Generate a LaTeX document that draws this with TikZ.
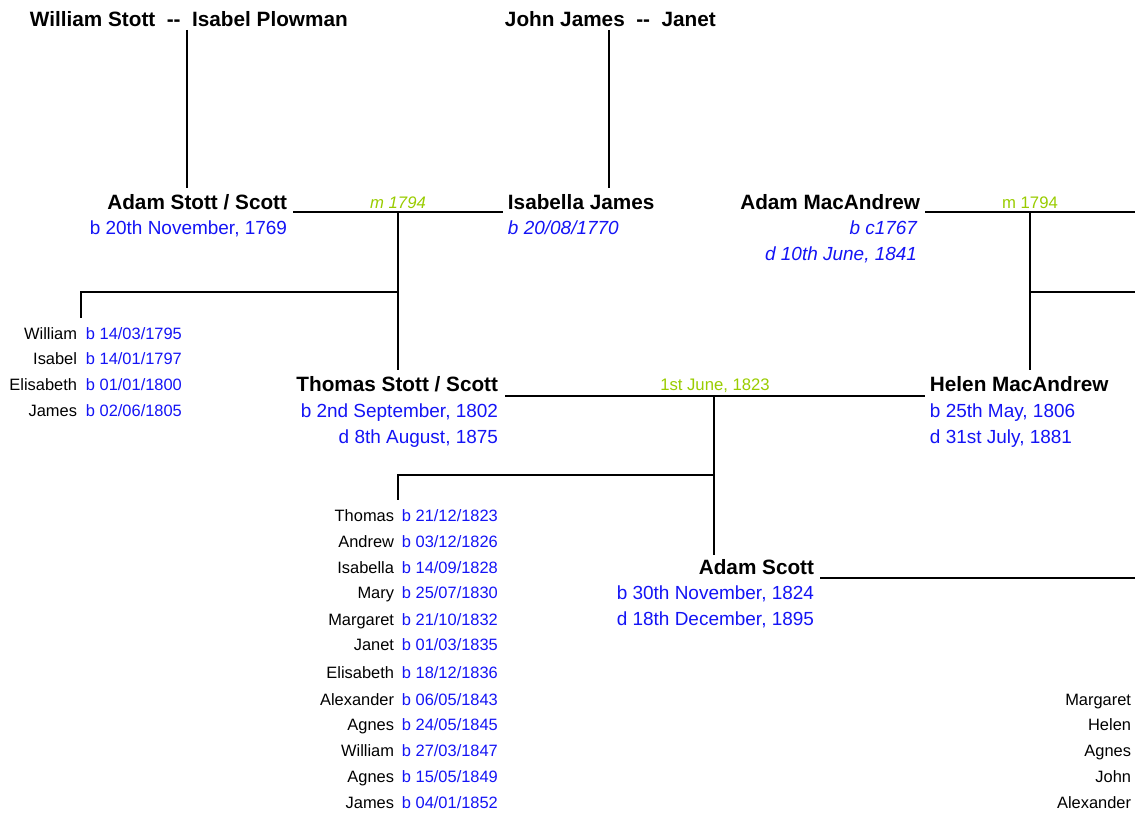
\documentclass[tikz,border=0pt]{standalone}
\usepackage{fontspec}
\setmainfont{Liberation Sans}
\usepackage{tikz}

\definecolor{wedgreen}{RGB}{153,204,0}
\definecolor{dateblue}{RGB}{20,20,245}

\begin{document}
\begin{tikzpicture}[x=0.02cm, y=-0.02cm, line width=1.1pt,
  nm/.style={font=\bfseries\fontsize{11.8}{14}\selectfont, inner sep=0},
  dt/.style={text=dateblue, font=\fontsize{10.8}{13}\selectfont, inner sep=0},
  idt/.style={text=dateblue, font=\itshape\fontsize{10.8}{13}\selectfont, inner sep=0},
  kid/.style={font=\fontsize{9.35}{11}\selectfont, inner sep=0},
  kdt/.style={kid, text=dateblue},
  wed/.style={text=wedgreen, font=\fontsize{9.5}{11}\selectfont, inner sep=0}]

\useasboundingbox (0,0) rectangle (1146,813);

% grandparents
\node [nm, anchor=base west] (stotts) at (29,27) {William Stott\ \ -{}-\ \ Isabel Plowman};
\node [nm, anchor=base west] (jameses) at (504,27) {John James\ \ -{}-\ \ Janet};

% Adam Stott and Isabella James
\node [nm, anchor=base east] (adam) at (288,210) {Adam Stott / Scott};
\node [dt, anchor=base east] (adamb) at (288,235) {b 20th November, 1769};
\node [nm, anchor=base west] (isabella) at (507,210) {Isabella James};
\node [idt, anchor=base west] (isabellab) at (507,235) {b 20/08/1770};
\node [wed, font=\itshape\fontsize{9.5}{11}\selectfont, anchor=base] (wed1) at (398,209) {m 1794};

% Adam MacAndrew
\node [nm, anchor=base east] (macadam) at (921,210) {Adam MacAndrew};
\node [idt, anchor=base east] (macadamb) at (918,235) {b c1767};
\node [idt, anchor=base east] (macadamd) at (918,261) {d 10th June, 1841};
\node [wed, anchor=base] (wed2) at (1030,209) {m 1794};

% Thomas and Helen
\node [nm, anchor=base east] (thomas) at (499,392) {Thomas Stott / Scott};
\node [dt, anchor=base east] (thomasb) at (499,418) {b 2nd September, 1802};
\node [dt, anchor=base east] (thomasd) at (499,444) {d 8th August, 1875};
\node [nm, anchor=base west] (helen) at (929,392) {Helen MacAndrew};
\node [dt, anchor=base west] (helenb) at (929,418) {b 25th May, 1806};
\node [dt, anchor=base west] (helend) at (929,444) {d 31st July, 1881};
\node [wed, anchor=base] (wed3) at (715,391) {1st June, 1823};

% Adam Scott
\node [nm, anchor=base east] (scott) at (815,575) {Adam Scott};
\node [dt, anchor=base east] (scottb) at (815,600) {b 30th November, 1824};
\node [dt, anchor=base east] (scottd) at (815,626) {d 18th December, 1895};

% children of Adam and Isabella
\node [kid, anchor=base east] (a1) at (78,340) {William};   \node [kdt, anchor=base west] (a1b) at (85,340) {b 14/03/1795};
\node [kid, anchor=base east] (a2) at (78,365) {Isabel};    \node [kdt, anchor=base west] (a2b) at (85,365) {b 14/01/1797};
\node [kid, anchor=base east] (a3) at (78,391) {Elisabeth}; \node [kdt, anchor=base west] (a3b) at (85,391) {b 01/01/1800};
\node [kid, anchor=base east] (a4) at (78,417) {James};     \node [kdt, anchor=base west] (a4b) at (85,417) {b 02/06/1805};

% children of Thomas and Helen
\node [kid, anchor=base east] (t1) at (395,522) {Thomas};     \node [kdt, anchor=base west] (t1b) at (401,522) {b 21/12/1823};
\node [kid, anchor=base east] (t2) at (395,548) {Andrew};     \node [kdt, anchor=base west] (t2b) at (401,548) {b 03/12/1826};
\node [kid, anchor=base east] (t3) at (395,574) {Isabella};   \node [kdt, anchor=base west] (t3b) at (401,574) {b 14/09/1828};
\node [kid, anchor=base east] (t4) at (395,599) {Mary};       \node [kdt, anchor=base west] (t4b) at (401,599) {b 25/07/1830};
\node [kid, anchor=base east] (t5) at (395,626) {Margaret};   \node [kdt, anchor=base west] (t5b) at (401,626) {b 21/10/1832};
\node [kid, anchor=base east] (t6) at (395,651) {Janet};      \node [kdt, anchor=base west] (t6b) at (401,651) {b 01/03/1835};
\node [kid, anchor=base east] (t7) at (395,679) {Elisabeth};  \node [kdt, anchor=base west] (t7b) at (401,679) {b 18/12/1836};
\node [kid, anchor=base east] (t8) at (395,705) {Alexander};  \node [kdt, anchor=base west] (t8b) at (401,705) {b 06/05/1843};
\node [kid, anchor=base east] (t9) at (395,730) {Agnes};      \node [kdt, anchor=base west] (t9b) at (401,730) {b 24/05/1845};
\node [kid, anchor=base east] (t10) at (395,756) {William};   \node [kdt, anchor=base west] (t10b) at (401,756) {b 27/03/1847};
\node [kid, anchor=base east] (t11) at (395,782) {Agnes};     \node [kdt, anchor=base west] (t11b) at (401,782) {b 15/05/1849};
\node [kid, anchor=base east] (t12) at (395,808) {James};     \node [kdt, anchor=base west] (t12b) at (401,808) {b 04/01/1852};

% children of Adam Scott
\node [kid, anchor=base east] (s1) at (1132,705) {Margaret};
\node [kid, anchor=base east] (s2) at (1132,730) {Helen};
\node [kid, anchor=base east] (s3) at (1132,756) {Agnes};
\node [kid, anchor=base east] (s4) at (1132,782) {John};
\node [kid, anchor=base east] (s5) at (1132,808) {Alexander};

% joints
\coordinate (stottsdown) at (187,30);   \coordinate (adamup) at (187,188);
\coordinate (jamesdown) at (609,30);    \coordinate (isabellaup) at (609,188);
\coordinate (wed1l) at (293,212);       \coordinate (wed1r) at (503,212);
\coordinate (wed1m) at (398,212);       \coordinate (thomasup) at (398,370);
\coordinate (sibs1m) at (398,292);      \coordinate (sibs1l) at (81,292);
\coordinate (a1up) at (81,318);
\coordinate (wed2l) at (925,212);       \coordinate (wed2r) at (1135,212);
\coordinate (wed2m) at (1030,212);      \coordinate (helenup) at (1030,370);
\coordinate (sibs2m) at (1030,292);     \coordinate (sibs2r) at (1135,292);
\coordinate (wed3l) at (505,396);       \coordinate (wed3r) at (925,396);
\coordinate (wed3m) at (714,396);       \coordinate (scottup) at (714,555);
\coordinate (sibs3m) at (714,475);      \coordinate (sibs3l) at (398,475);
\coordinate (t1up) at (398,500);
\coordinate (wed4l) at (820,578);       \coordinate (wed4r) at (1135,578);

\draw (stottsdown) to (adamup);
\draw (jamesdown) to (isabellaup);
\draw (wed1l) to (wed1r);
\draw (wed1m) to (thomasup);
\draw (sibs1m) to (sibs1l) to (a1up);
\draw (wed2l) to (wed2r);
\draw (wed2m) to (helenup);
\draw (sibs2m) to (sibs2r);
\draw (wed3l) to (wed3r);
\draw (wed3m) to (scottup);
\draw (sibs3m) to (sibs3l) to (t1up);
\draw (wed4l) to (wed4r);
\end{tikzpicture}
\end{document}
